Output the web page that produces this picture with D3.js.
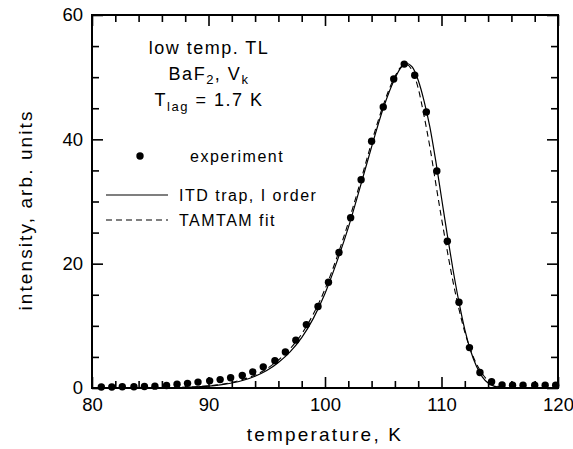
<!DOCTYPE html>
<html><head><meta charset="utf-8">
<script src="https://cdn.jsdelivr.net/npm/d3@7"></script>
<style>
html,body{margin:0;padding:0;background:#fff;}
text{font-family:"Liberation Sans",Arial,Helvetica,sans-serif;fill:#000;}
</style></head>
<body><svg id="c" width="573" height="449"></svg>
<script>
// experiment points
const expT = [80.8,81.7,82.6,83.6,84.5,85.4,86.4,87.3,88.2,89.1,90.1,91.0,91.9,92.9,93.8,94.7,95.7,96.6,97.5,98.4,99.4,100.3,101.2,102.2,103.1,104.0,105.0,105.9,106.8,107.7,108.7,109.6,110.5,111.5,112.4,113.3,114.3,115.2,116.1,117.0,118.0,118.9,119.8];
const expI = [0.15,0.15,0.2,0.2,0.25,0.3,0.4,0.6,0.75,0.95,1.15,1.35,1.65,2.0,2.6,3.4,4.4,5.8,7.7,10.2,13.1,17.0,21.8,27.4,33.5,39.7,45.2,49.7,52.1,50.3,44.4,34.9,23.6,13.8,6.5,2.5,1.0,0.5,0.45,0.45,0.45,0.45,0.45];
// model curves
const curveT = [80,82,84,86,88,89,90,91,92,93,94,95,96,97,98,99,100,101,102,103,104,105,106,106.5,107,107.5,108,108.5,109,109.5,110,110.5,111,111.5,112,112.5,113,113.5,114,114.5,115,115.5,116,118,120];
const itdI = [0,0,0.01,0.03,0.1,0.18,0.3,0.5,0.8,1.25,1.9,2.8,4.1,5.8,8.1,11.2,15.2,20.2,25.8,32.2,38.8,45.0,49.8,51.5,52.2,51.6,49.5,46.2,42.0,36.6,30.6,24.6,18.9,13.8,9.4,6.0,3.5,1.8,0.8,0.3,0.1,0.02,0,0,0];
const tamI = [0,0,0.01,0.04,0.12,0.2,0.35,0.55,0.9,1.4,2.1,3.1,4.5,6.3,8.7,11.9,15.9,20.9,26.6,32.9,39.5,45.5,50.1,51.6,52.0,51.0,48.2,43.8,38.8,33.0,27.3,22.0,17.0,12.7,9.0,6.1,3.9,2.3,1.2,0.5,0.15,0.03,0,0,0];
// ticks
const xMajor = [80,90,100,110,120];
const xMinor = [82,84,86,88,92,94,96,98,102,104,106,108,112,114,116,118];
const yMajor = [0,20,40,60];
const yMinor = [5,10,15,25,30,35,45,50,55];

const svg = d3.select("#c");
const L=92,R=558,T=15,B=388;
const x = d3.scaleLinear().domain([80,120]).range([L,R]);
const y = d3.scaleLinear().domain([0,60]).range([B,T]);

function styleAxis(g){
  g.select(".domain").remove();
  g.selectAll("line").attr("stroke","#000").attr("stroke-width",1.6);
  g.selectAll("text").attr("font-size",18.5).attr("fill","#000");
}
// bottom
svg.append("g").attr("transform",`translate(0,${B})`)
  .call(d3.axisBottom(x).tickValues(xMajor).tickSize(-11).tickPadding(10).tickFormat(d3.format("d"))).call(styleAxis);
svg.append("g").attr("transform",`translate(0,${B})`)
  .call(d3.axisBottom(x).tickValues(xMinor).tickSize(-7).tickFormat("")).call(styleAxis);
// top
svg.append("g").attr("transform",`translate(0,${T})`)
  .call(d3.axisTop(x).tickValues(xMajor).tickSize(-11).tickFormat("")).call(styleAxis);
svg.append("g").attr("transform",`translate(0,${T})`)
  .call(d3.axisTop(x).tickValues(xMinor).tickSize(-7).tickFormat("")).call(styleAxis);
// left
svg.append("g").attr("transform",`translate(${L},0)`)
  .call(d3.axisLeft(y).tickValues(yMajor).tickSize(-11).tickPadding(9).tickFormat(d3.format("d"))).call(styleAxis);
svg.append("g").attr("transform",`translate(${L},0)`)
  .call(d3.axisLeft(y).tickValues(yMinor).tickSize(-7).tickFormat("")).call(styleAxis);
// right
svg.append("g").attr("transform",`translate(${R},0)`)
  .call(d3.axisRight(y).tickValues(yMajor).tickSize(-11).tickFormat("")).call(styleAxis);
svg.append("g").attr("transform",`translate(${R},0)`)
  .call(d3.axisRight(y).tickValues(yMinor).tickSize(-7).tickFormat("")).call(styleAxis);
// frame
svg.append("rect").attr("x",L).attr("y",T).attr("width",R-L).attr("height",B-T)
  .attr("fill","none").attr("stroke","#000").attr("stroke-width",2);

// curves
const line = d3.line().x((d,i)=>x(curveT[i])).y(d=>y(d)).curve(d3.curveMonotoneX);
svg.append("path").datum(itdI).attr("d",line).attr("fill","none").attr("stroke","#000").attr("stroke-width",1.2);
svg.append("path").datum(tamI).attr("d",line).attr("fill","none").attr("stroke","#000").attr("stroke-width",1.1).attr("stroke-dasharray","6,4");

// points
svg.append("g").selectAll("circle").data(expI).join("circle")
  .attr("cx",(d,i)=>x(expT[i])).attr("cy",d=>y(d)).attr("r",3.7).attr("fill","#000");

// axis titles
svg.append("text").attr("x",(L+R)/2).attr("y",441).attr("text-anchor","middle")
  .attr("font-size",19).attr("letter-spacing",2.2).text("temperature, K");
svg.append("text").attr("transform","translate(32,210) rotate(-90)").attr("text-anchor","middle")
  .attr("font-size",19).attr("letter-spacing",2.1).text("intensity, arb. units");

// annotation
const ann = svg.append("g").attr("font-size",18).attr("letter-spacing",1.5);
ann.append("text").attr("x",209).attr("y",54).attr("text-anchor","middle").text("low temp. TL");
const t2 = ann.append("text").attr("x",209).attr("y",80).attr("text-anchor","middle");
t2.append("tspan").text("BaF");
t2.append("tspan").attr("font-size",13).attr("dy",4).text("2");
t2.append("tspan").attr("dy",-4).text(", V");
t2.append("tspan").attr("font-size",13).attr("dy",4).text("k");
const t3 = ann.append("text").attr("x",209).attr("y",106).attr("text-anchor","middle");
t3.append("tspan").text("T");
t3.append("tspan").attr("font-size",13).attr("dy",5).text("lag");
t3.append("tspan").attr("dy",-5).text(" = 1.7 K");

// legend
const lg = svg.append("g").attr("font-size",16).attr("letter-spacing",1.5);
lg.append("circle").attr("cx",140).attr("cy",156).attr("r",3.7).attr("fill","#000");
lg.append("text").attr("x",190).attr("y",162).text("experiment");
lg.append("line").attr("x1",106).attr("x2",168).attr("y1",195).attr("y2",195).attr("stroke","#000").attr("stroke-width",1.2);
lg.append("text").attr("x",179).attr("y",201).text("ITD trap, I order");
lg.append("line").attr("x1",106).attr("x2",168).attr("y1",220).attr("y2",220).attr("stroke","#000").attr("stroke-width",1.1).attr("stroke-dasharray","6,4");
lg.append("text").attr("x",179).attr("y",226).text("TAMTAM fit");
</script></body></html>
